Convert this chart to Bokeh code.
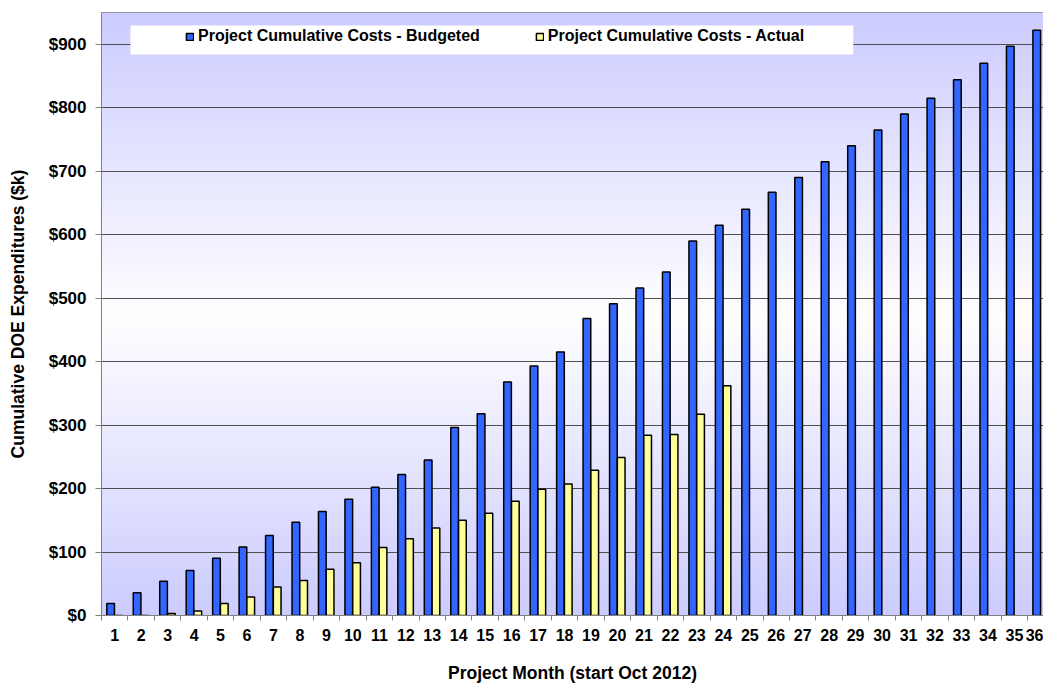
import numpy as np
from bokeh.plotting import figure
from bokeh.models import (ColumnDataSource, Range1d, FixedTicker, NumeralTickFormatter,
                          Legend, LegendItem, BoxAnnotation)
from bokeh.transform import dodge
from bokeh.embed import file_html
from bokeh.resources import INLINE

# ---------------- data ----------------
months = list(range(1, 37))
budgeted = [19, 36, 54, 71, 90, 108, 126, 147, 164, 183, 202, 222,
            245, 296, 318, 368, 393, 415, 468, 491, 516, 541, 590, 615,
            640, 667, 690, 715, 740, 765, 790, 815, 844, 870, 897, 922]
actual_months = list(range(1, 25))
actual = [0, 0, 3, 7, 19, 29, 45, 55, 73, 83, 107, 121,
          138, 150, 161, 180, 199, 207, 229, 249, 284, 285, 317, 362]
y_ticks = list(range(0, 1000, 100))
budget_label = "Project Cumulative Costs - Budgeted"
actual_label = "Project Cumulative Costs - Actual"

FONT = "Liberation Sans"

src_b = ColumnDataSource(dict(m=months, v=budgeted))
src_a = ColumnDataSource(dict(m=actual_months, v=actual))

p = figure(width=1043, height=685, output_backend="svg", toolbar_location=None,
           x_range=Range1d(0.5, 36.1), y_range=Range1d(0, 950),
           min_border_left=101, min_border_right=0, min_border_top=12, min_border_bottom=66)

# background gradient (lavender - white - lavender)
n = 400
vals = np.linspace(0, 950, n)
t = np.where(vals >= 470, (vals - 470) / 480.0, (470 - vals) / 470.0)
img = np.empty((n, 1), dtype=np.uint32)
view = img.view(dtype=np.uint8).reshape((n, 1, 4))
view[:, 0, 0] = (255 - t * 51).astype(np.uint8)
view[:, 0, 1] = (255 - t * 51).astype(np.uint8)
view[:, 0, 2] = 255
view[:, 0, 3] = 255
p.image_rgba(image=[img], x=0.5, y=0, dw=36, dh=950, level="image")

p.background_fill_color = "white"
p.border_fill_color = "white"
p.outline_line_color = "#808080"

rb = p.vbar(x=dodge("m", -0.155, range=p.x_range), top="v", width=0.29, source=src_b,
            fill_color="#3366FF", line_color="black", line_width=1.5)
ra = p.vbar(x=dodge("m", 0.14, range=p.x_range), top="v", width=0.29, source=src_a,
            fill_color="#FFFF99", line_color="black", line_width=1.5)

# grid
p.xgrid.visible = False
p.ygrid.ticker = FixedTicker(ticks=y_ticks)
p.ygrid.grid_line_color = "#505050"
p.ygrid.grid_line_width = 1

# y axis
p.yaxis.ticker = FixedTicker(ticks=y_ticks)
p.yaxis.formatter = NumeralTickFormatter(format="$0")
p.yaxis.axis_line_color = "#808080"
p.yaxis.major_tick_line_color = "#808080"
p.yaxis.major_tick_out = 6
p.yaxis.major_tick_in = 0
p.yaxis.minor_tick_line_color = None
p.yaxis.major_label_standoff = 9
p.yaxis.major_label_text_font = FONT
p.yaxis.major_label_text_font_style = "bold"
p.yaxis.major_label_text_font_size = "17px"
p.yaxis.major_label_text_color = "black"
p.yaxis.axis_label = "Cumulative DOE Expenditures ($k)"
p.yaxis.axis_label_text_font = FONT
p.yaxis.axis_label_text_font_style = "bold"
p.yaxis.axis_label_text_font_size = "17.5px"
p.yaxis.axis_label_text_color = "black"
p.yaxis.axis_label_standoff = 18

# x axis
p.xaxis.ticker = FixedTicker(ticks=months, minor_ticks=[m - 0.5 for m in months] + [36.5])
p.xaxis.axis_line_color = "#808080"
p.xaxis.major_tick_line_color = None
p.xaxis.major_tick_out = 0
p.xaxis.major_tick_in = 0
p.xaxis.minor_tick_line_color = "#808080"
p.xaxis.minor_tick_out = 5
p.xaxis.minor_tick_in = 0
p.xaxis.major_label_standoff = 8
p.xaxis.major_label_text_font = FONT
p.xaxis.major_label_text_font_style = "bold"
p.xaxis.major_label_text_font_size = "16px"
p.xaxis.major_label_text_color = "black"
p.xaxis.axis_label = "Project Month (start Oct 2012)"
p.xaxis.axis_label_text_font = FONT
p.xaxis.axis_label_text_font_style = "bold"
p.xaxis.axis_label_text_font_size = "17.5px"
p.xaxis.axis_label_text_color = "black"
p.xaxis.axis_label_standoff = 19

# legend box + legend
p.add_layout(BoxAnnotation(left=1.596, right=28.91, bottom=884, top=929.6,
                           fill_color="white", fill_alpha=1, line_alpha=0))
legend = Legend(items=[LegendItem(label=budget_label, renderers=[rb]),
                       LegendItem(label=actual_label, renderers=[ra])],
                orientation="horizontal", location=(84, 570), padding=0, margin=0,
                spacing=55, glyph_width=9, glyph_height=9, label_standoff=4,
                label_height=18, label_text_font=FONT, label_text_font_style="bold",
                label_text_font_size="16px", label_text_color="black",
                background_fill_alpha=0, border_line_alpha=0)
p.add_layout(legend)

open("out.html", "w").write(file_html(p, INLINE))
